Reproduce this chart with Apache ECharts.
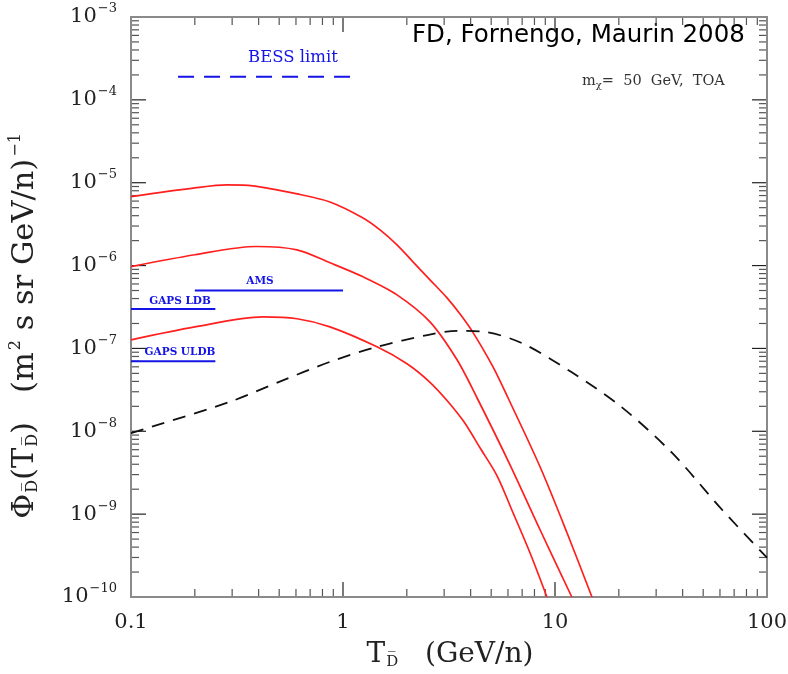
<!DOCTYPE html>
<html>
<head>
<meta charset="utf-8">
<script src="https://cdn.jsdelivr.net/npm/echarts@6/dist/echarts.min.js"></script>
<style>
  html, body { margin: 0; padding: 0; background: #fff; }
  #chart { width: 788px; height: 674px; }
</style>
</head>
<body>
<div id="chart"></div>
<script>
// Antideuteron top-of-atmosphere flux vs kinetic energy per nucleon (GeV/n)
// Three dark-matter signal curves (m_chi = 50 GeV) and the secondary background.
const upperE    = [0.1, 0.2, 0.284, 0.376, 0.607, 0.868, 1.243, 1.495, 1.798, 2.138, 2.572, 3.095, 3.565, 4.06, 5.10, 6.0, 8.5, 11.39, 14.94];
const upperFlux = [6.8e-6, 8.65e-6, 9.4e-6, 9.15e-6, 7.33e-6, 5.86e-6, 3.76e-6, 2.70e-6, 1.78e-6, 1.11e-6, 6.73e-7, 4.08e-7, 2.61e-7, 1.63e-7, 6.0e-8, 2.54e-8, 3.73e-9, 5.97e-10, 1e-10];

const middleE    = [0.1, 0.2, 0.39, 0.607, 0.868, 1.243, 1.798, 2.572, 3.45, 4.285, 6.134, 8.5, 12.0];
const middleFlux = [9.7e-7, 1.35e-6, 1.70e-6, 1.55e-6, 1.08e-6, 7.31e-7, 4.43e-7, 2.09e-7, 7.29e-8, 2.54e-8, 3.94e-9, 6.48e-10, 1e-10];

const lowerE    = [0.1, 0.2, 0.42, 0.607, 0.868, 1.446, 2.004, 2.572, 3.095, 3.72, 4.427, 5.33, 6.338, 7.62, 9.16];
const lowerFlux = [1.27e-7, 1.82e-7, 2.40e-7, 2.28e-7, 1.82e-7, 1.045e-7, 6.52e-8, 3.9e-8, 2.35e-8, 1.3e-8, 6.32e-9, 2.9e-9, 1.04e-9, 3.42e-10, 1e-10];

const backgroundE    = [0.1, 0.293, 0.5, 0.868, 1.446, 2.5, 3.45, 4.5, 6.918, 11.9, 20.5, 35.6, 61.4, 100];
const backgroundFlux = [9.5e-9, 2.27e-8, 3.95e-8, 6.89e-8, 1.045e-7, 1.45e-7, 1.63e-7, 1.6e-7, 1.17e-7, 5.22e-8, 1.98e-8, 5.51e-9, 1.13e-9, 2.98e-10];

// Experimental sensitivities: [Tmin, Tmax] and flux level
const bessRange = [0.1667, 1.10];   const bessFlux = 1.9e-4;
const amsRange  = [0.2, 1.0];       const amsFlux  = 5e-7;
const gapsLdbRange  = [0.1, 0.25];  const gapsLdbFlux  = 3e-7;
const gapsUldbRange = [0.1, 0.25];  const gapsUldbFlux = 7e-8;

// Axis ticks
const xMajor = [0.1, 1, 10, 100];
const yMajor = [1e-10, 1e-9, 1e-8, 1e-7, 1e-6, 1e-5, 1e-4, 1e-3];
const minorsOf = (decades) => {
  const out = [];
  for (let i = 0; i < decades.length - 1; i++) {
    for (let k = 2; k <= 9; k++) out.push(+(k * decades[i]).toPrecision(3));
  }
  return out;
};
const xMinor = minorsOf(xMajor);
const yMinor = minorsOf(yMajor);

const pairs = (xs, ys) => xs.map((x, i) => [x, ys[i]]);
const flat = (range, v) => [[range[0], v], [range[1], v]];

const SERIF = '"DejaVu Serif", "Liberation Serif", serif';
const AXIS_GREY = '#8a8a8a';
const MAJOR_LEN = 15, MINOR_LEN = 8;
const BLUE = '#1414e6';

function makeX(position, withLabels) {
  return {
    type: 'log', min: 0.1, max: 100, position: position,
    axisLine: { show: true, lineStyle: { color: AXIS_GREY, width: 2 } },
    axisTick: { show: false },
    splitLine: { show: false },
    axisLabel: withLabels ? {
      show: true, customValues: xMajor, margin: 15,
      fontFamily: SERIF, fontSize: 21, color: '#222',
      formatter: (v) => (v < 0.5 ? '0.1' : String(Math.round(v)))
    } : { show: false }
  };
}

function makeY(position, withLabels) {
  return {
    type: 'log', min: 1e-10, max: 1e-3, position: position,
    axisLine: { show: true, lineStyle: { color: AXIS_GREY, width: 2 } },
    axisTick: { show: false },
    splitLine: { show: false },
    axisLabel: withLabels ? {
      show: true, customValues: yMajor, margin: 14,
      fontFamily: SERIF, color: '#222',
      formatter: (v) => '{b|10}{e|\u2212' + Math.round(-Math.log10(v)) + '}',
      rich: {
        b: { fontFamily: SERIF, fontSize: 21, color: '#222' },
        e: { fontFamily: SERIF, fontSize: 13, color: '#222', padding: [0, 0, 16, 1] }
      }
    } : { show: false }
  };
}

const redLine = { color: '#ff1f1f', width: 1.7 };
const curve = (name, xs, ys, lineStyle) => ({
  name: name, type: 'line', data: pairs(xs, ys), showSymbol: false,
  smooth: 0.3, lineStyle: lineStyle, silent: true
});
const level = (name, range, v, dashed) => ({
  name: name, type: 'line', data: flat(range, v), showSymbol: false, silent: true,
  lineStyle: { color: BLUE, width: 2, type: dashed ? [16, 10] : 'solid' }
});

const option = {
  animation: false,
  backgroundColor: '#ffffff',
  grid: { left: 131, right: 21, top: 17, bottom: 77, outerBoundsMode: 'none' },
  xAxis: [ makeX('bottom', true), makeX('top', false) ],
  yAxis: [ makeY('left', true), makeY('right', false) ],
  series: [
    curve('signal high', upperE, upperFlux, redLine),
    curve('signal mid', middleE, middleFlux, redLine),
    curve('signal low', lowerE, lowerFlux, redLine),
    curve('secondary background', backgroundE, backgroundFlux, { color: '#111', width: 1.8, type: [13, 9] }),
    level('BESS limit', bessRange, bessFlux, true),
    level('AMS', amsRange, amsFlux, false),
    level('GAPS LDB', gapsLdbRange, gapsLdbFlux, false),
    level('GAPS ULDB', gapsUldbRange, gapsUldbFlux, false)
  ]
};

const chart = echarts.init(document.getElementById('chart'), null, { renderer: 'canvas' });
chart.setOption(option);

// Annotations and axis titles
const texts = [
  { type: 'text', left: 412, top: 23, silent: true,
    style: { text: 'FD, Fornengo, Maurin 2008', fontFamily: '"DejaVu Sans", sans-serif',
             fontSize: 24.5, fill: '#000' } },
  { type: 'text', x: 582, y: 81, silent: true,
    style: { text: '{m|m}{s|\u03c7}{m|=  50  GeV,  TOA}', verticalAlign: 'middle',
             rich: { m: { fontFamily: SERIF, fontSize: 14.5, fill: '#333' },
                     s: { fontFamily: SERIF, fontSize: 10, fill: '#333', padding: [9, 0, 0, 0] } } } },
  { type: 'text', x: 293, y: 58, silent: true,
    style: { text: 'BESS limit', align: 'center', verticalAlign: 'middle',
             fontFamily: SERIF, fontSize: 16.5, fill: BLUE } },
  { type: 'text', x: 260, y: 281, silent: true,
    style: { text: 'AMS', align: 'center', verticalAlign: 'middle',
             fontFamily: SERIF, fontWeight: 'bold', fontSize: 10.5, fill: BLUE } },
  { type: 'text', x: 180, y: 301, silent: true,
    style: { text: 'GAPS LDB', align: 'center', verticalAlign: 'middle',
             fontFamily: SERIF, fontWeight: 'bold', fontSize: 10.5, fill: BLUE } },
  { type: 'text', x: 180, y: 352, silent: true,
    style: { text: 'GAPS ULDB', align: 'center', verticalAlign: 'middle',
             fontFamily: SERIF, fontWeight: 'bold', fontSize: 10.5, fill: BLUE } },
  // x-axis title
  { type: 'text', x: 450, y: 655, silent: true,
    style: { text: '{b|T}{s|D\u0305}{b|   (GeV/n)}', align: 'center', verticalAlign: 'middle',
             rich: { b: { fontFamily: SERIF, fontSize: 28, fill: '#222' },
                     s: { fontFamily: SERIF, fontSize: 15, fill: '#222', padding: [14, 0, 0, 1] } } } },
  // y-axis title
  { type: 'text', x: 25, y: 326, rotation: Math.PI / 2, silent: true,
    style: { text: '{b|\u03a6}{s|D\u0305}{b|(T}{s|D\u0305}{b|)   (m}{e|2}{b| s sr GeV/n)}{e|\u22121}',
             align: 'center', verticalAlign: 'middle',
             rich: { b: { fontFamily: SERIF, fontSize: 30.5, fill: '#222' },
                     s: { fontFamily: SERIF, fontSize: 16, fill: '#222', padding: [15, 0, 0, 1] },
                     e: { fontFamily: SERIF, fontSize: 16, fill: '#222', padding: [0, 0, 18, 2] } } } }
];

// Inward tick marks on all four sides, placed through the axes' own log scales
const toPx = (x, y) => chart.convertToPixel({ xAxisIndex: 0, yAxisIndex: 0 }, [x, y]);
const cornerTL = toPx(0.1, 1e-3);
const cornerBR = toPx(100, 1e-10);
const frameLeft = cornerTL[0], frameTop = cornerTL[1];
const frameRight = cornerBR[0], frameBottom = cornerBR[1];
const TICK_W = 1.2;
const tickMarks = [];
const addBar = (x, y, w, h, major) => {
  tickMarks.push({
    type: 'rect',
    shape: { x: x, y: y, width: w, height: h },
    style: { fill: major ? '#222' : '#555' }
  });
};
const addX = (v, len, major) => {
  const px = toPx(v, 1e-6)[0] - TICK_W / 2;
  addBar(px, frameBottom - len, TICK_W, len, major);
  addBar(px, frameTop, TICK_W, len, major);
};
const addY = (v, len, major) => {
  const py = toPx(1, v)[1] - TICK_W / 2;
  addBar(frameLeft, py, len, TICK_W, major);
  addBar(frameRight - len, py, len, TICK_W, major);
};
xMajor.forEach(v => addX(v, MAJOR_LEN, true));
xMinor.forEach(v => addX(v, MINOR_LEN, false));
yMajor.forEach(v => addY(v, MAJOR_LEN, true));
yMinor.forEach(v => addY(v, MINOR_LEN, false));

chart.setOption({ graphic: texts.concat(tickMarks) });
</script>
</body>
</html>
